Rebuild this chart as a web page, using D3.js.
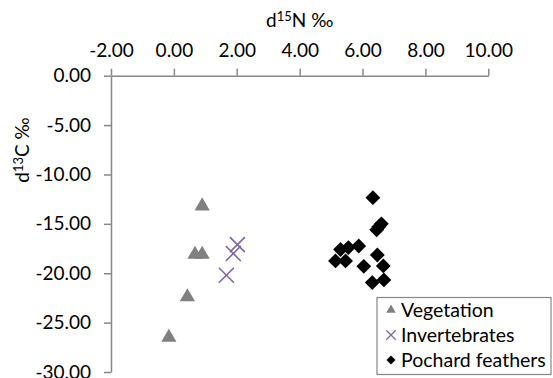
<!DOCTYPE html>
<html>
<head>
<meta charset="utf-8" />
<title>d15N vs d13C</title>
<script src="https://d3js.org/d3.v7.min.js"></script>
<style>
body { margin: 0; background: #fff; }
svg text { font-family: Lato, "Open Sans", sans-serif; fill: #000; }
.axis path, .axis line { stroke: #878787; stroke-width: 1.5; }
</style>
</head>
<body>
<div id="viz"></div>
<script>
// tick values
var xTicks = [-2, 0, 2, 4, 6, 8, 10];
var yTicks = [0, -5, -10, -15, -20, -25, -30];

// series (x = d15N, y = d13C)
var vegN = [0.90, 0.67, 0.90, 0.43, -0.16];
var vegC = [-13.2, -18.1, -18.1, -22.4, -26.5];

var invN = [2.02, 1.89, 1.67];
var invC = [-17.1, -18.0, -20.2];

var pochN = [6.33, 6.60, 6.52, 6.45, 5.88, 5.55, 5.30, 6.47, 5.14, 5.46, 6.04, 6.66, 6.31, 6.68];
var pochC = [-12.35, -15.0, -15.3, -15.6, -17.24, -17.4, -17.6, -18.15, -18.75, -18.75, -19.3, -19.26, -20.95, -20.68];

var seriesNames = ["Vegetation", "Invertebrates", "Pochard feathers"];

var width = 553, height = 378;

var svg = d3.select("#viz").append("svg")
    .attr("width", width)
    .attr("height", height);

var x = d3.scaleLinear().domain([-2, 10]).range([111, 488.3]);
var y = d3.scaleLinear().domain([-30, 0]).range([372, 75.7]);

var fmt = function(v) { return v.toFixed(2); };

// x axis sits on top at y = 0
svg.append("g")
    .attr("class", "axis")
    .attr("transform", "translate(0," + y(0) + ")")
    .call(d3.axisTop(x).tickValues(xTicks).tickFormat(fmt).tickSize(7).tickSizeOuter(0).tickPadding(12))
    .selectAll("text").style("font-size", "19px");

svg.append("g")
    .attr("class", "axis")
    .attr("transform", "translate(" + x(-2) + ",0)")
    .call(d3.axisLeft(y).tickValues(yTicks).tickFormat(fmt).tickSize(7).tickSizeOuter(0).tickPadding(13))
    .selectAll("text").style("font-size", "19px");

// axis titles
var xt = svg.append("text")
    .attr("x", (x(-2) + x(10)) / 2)
    .attr("y", 27)
    .attr("text-anchor", "middle")
    .style("font-size", "19px");
xt.append("tspan").text("d");
xt.append("tspan").attr("dy", -6).style("font-size", "13px").text("15");
xt.append("tspan").attr("dy", 6).text("N \u2030");

var yt = svg.append("text")
    .attr("transform", "translate(29,150) rotate(-90)")
    .attr("text-anchor", "middle")
    .style("font-size", "19px");
yt.append("tspan").text("d");
yt.append("tspan").attr("dy", -6).style("font-size", "13px").text("13");
yt.append("tspan").attr("dy", 6).text("C \u2030");

// markers
var tri = d3.symbol().type(d3.symbolTriangle).size(100);
var cross = d3.symbol().type(d3.symbolX).size(148);
var diamond = d3.symbol().type(d3.symbolSquare).size(110);

svg.append("g").selectAll("path")
    .data(d3.zip(vegN, vegC))
    .enter().append("path")
    .attr("d", tri)
    .attr("transform", function(d) { return "translate(" + x(d[0]) + "," + y(d[1]) + ")"; })
    .attr("fill", "#808080");

svg.append("g").selectAll("path")
    .data(d3.zip(invN, invC))
    .enter().append("path")
    .attr("d", cross)
    .attr("transform", function(d) { return "translate(" + x(d[0]) + "," + y(d[1]) + ")"; })
    .attr("fill", "none")
    .attr("stroke", "#7f64a6")
    .attr("stroke-width", 1.6);

svg.append("g").selectAll("path")
    .data(d3.zip(pochN, pochC))
    .enter().append("path")
    .attr("d", diamond)
    .attr("transform", function(d) { return "translate(" + x(d[0]) + "," + y(d[1]) + ") rotate(45)"; })
    .attr("fill", "#000");

// legend
var lg = svg.append("g");
lg.append("rect")
    .attr("x", 377).attr("y", 297.5)
    .attr("width", 174).attr("height", 77)
    .attr("fill", "#fff")
    .attr("stroke", "#878787")
    .attr("stroke-width", 1.2);

var legendSyms = [
  { d: d3.symbol().type(d3.symbolTriangle).size(40)(), fill: "#808080", stroke: "none", rot: 0 },
  { d: d3.symbol().type(d3.symbolX).size(60)(), fill: "none", stroke: "#7f64a6", rot: 0 },
  { d: d3.symbol().type(d3.symbolSquare).size(40)(), fill: "#000", stroke: "none", rot: 45 }
];

seriesNames.forEach(function(name, i) {
  var cy = 310 + i * 25;
  lg.append("path")
      .attr("d", legendSyms[i].d)
      .attr("transform", "translate(391," + cy + ") rotate(" + legendSyms[i].rot + ")")
      .attr("fill", legendSyms[i].fill)
      .attr("stroke", legendSyms[i].stroke)
      .attr("stroke-width", 1.2);
  lg.append("text")
      .attr("x", 401)
      .attr("y", cy + 7)
      .style("font-size", "19.5px")
      .text(name);
});
</script>
</body>
</html>
